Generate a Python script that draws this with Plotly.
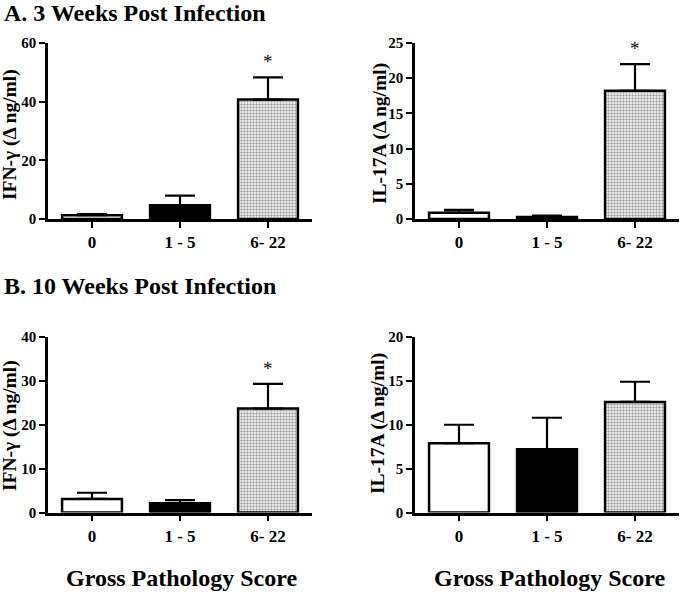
import plotly.graph_objects as go

categories = ["0", "1 - 5", "6- 22"]

# Panel A: 3 weeks post infection
ifn_3wk = [1.3, 4.7, 40.7]
ifn_3wk_err = [0.4, 3.3, 7.6]
il17_3wk = [0.9, 0.3, 18.2]
il17_3wk_err = [0.4, 0.2, 3.8]

# Panel B: 10 weeks post infection
ifn_10wk = [3.1, 2.1, 23.7]
ifn_10wk_err = [1.4, 0.7, 5.6]
il17_10wk = [7.9, 7.2, 12.6]
il17_10wk_err = [2.1, 3.6, 2.3]

stars_3wk_ifn = ["", "", "*"]
stars_3wk_il17 = ["", "", "*"]
stars_10wk_ifn = ["", "", "*"]
stars_10wk_il17 = ["", "", ""]

FONT = "'Liberation Serif', 'DejaVu Serif', 'Times New Roman', serif"

fig = go.Figure()

panels = [
    ("x", "y", ifn_3wk, ifn_3wk_err, stars_3wk_ifn),
    ("x2", "y2", il17_3wk, il17_3wk_err, stars_3wk_il17),
    ("x3", "y3", ifn_10wk, ifn_10wk_err, stars_10wk_ifn),
    ("x4", "y4", il17_10wk, il17_10wk_err, stars_10wk_il17),
]

fills = ["white", "black", "white"]
pattern_shapes = ["", "", "."]

for xa, ya, vals, errs, stars in panels:
    fig.add_trace(go.Bar(
        x=categories, y=vals, xaxis=xa, yaxis=ya,
        width=0.68,
        marker=dict(color=fills, line=dict(color="black", width=2.5),
                    pattern=dict(shape=pattern_shapes,
                                 fgcolor="#7a7a7a", bgcolor="#e6e6e6",
                                 size=3, solidity=0.5)),
        error_y=dict(type="data", symmetric=False, array=errs,
                     arrayminus=[0, 0, 0], color="black", thickness=2.2, width=15),
        showlegend=False, hoverinfo="skip",
    ))
    for c, v, e, s in zip(categories, vals, errs, stars):
        if s:
            fig.add_annotation(x=c, y=v + e, xref=xa, yref=ya, text=s,
                               showarrow=False, yanchor="bottom", yshift=3,
                               font=dict(family=FONT, size=19, color="black"))

xdom_l = [48 / 680, 312 / 680]
xdom_r = [415 / 680, 679 / 680]
ydom_a = [1 - 219 / 594, 1 - 43 / 594]
ydom_b = [1 - 512.5 / 594, 1 - 337 / 594]

def xaxis(dom, anchor):
    return dict(domain=dom, anchor=anchor, type="category", range=[-0.5, 2.5],
                automargin=False,
                showline=True, linecolor="black", linewidth=2.5,
                ticks="outside", ticklen=6, tickwidth=2, tickcolor="black",
                showgrid=False, zeroline=False,
                tickfont=dict(family=FONT, size=17, color="black", weight="bold"))

def yaxis(dom, anchor, rng, dt):
    return dict(domain=dom, anchor=anchor, range=rng, dtick=dt,
                automargin=False,
                showline=True, linecolor="black", linewidth=2.5,
                ticks="outside", ticklen=6, tickwidth=2, tickcolor="black",
                showgrid=False, zeroline=False,
                tickfont=dict(family=FONT, size=15, color="black", weight="bold"))

fig.update_layout(
    width=680, height=594,
    margin=dict(l=0, r=0, t=0, b=0, pad=0),
    paper_bgcolor="white", plot_bgcolor="white",
    font=dict(family=FONT, color="black"),
    xaxis=xaxis(xdom_l, "y"),
    yaxis=yaxis(ydom_a, "x", [0, 60], 20),
    xaxis2=xaxis(xdom_r, "y2"),
    yaxis2=yaxis(ydom_a, "x2", [0, 25], 5),
    xaxis3=xaxis(xdom_l, "y3"),
    yaxis3=yaxis(ydom_b, "x3", [0, 40], 10),
    xaxis4=xaxis(xdom_r, "y4"),
    yaxis4=yaxis(ydom_b, "x4", [0, 20], 5),
)

def ytitle(text, xpx, ypx):
    fig.add_annotation(x=xpx / 680, y=1 - ypx / 594, xref="paper", yref="paper",
                       text=text, textangle=-90, showarrow=False,
                       xanchor="center", yanchor="middle",
                       font=dict(family=FONT, size=19.5, color="black"))

ytitle("<b>IFN-γ (Δ ng/ml)</b>", 10, 135)
ytitle("<b>IL-17A (Δ ng/ml)</b>", 380, 134)
ytitle("<b>IFN-γ (Δ ng/ml)</b>", 10, 426)
ytitle("<b>IL-17A (Δ ng/ml)</b>", 378, 424)

def label(text, xpx, ypx, anchor="left", size=24):
    fig.add_annotation(x=xpx / 680, y=1 - ypx / 594, xref="paper", yref="paper",
                       text=text, showarrow=False, xanchor=anchor, yanchor="middle",
                       font=dict(family=FONT, size=size, color="black"))

label("<b>A. 3 Weeks Post Infection</b>", 2, 13)
label("<b>B. 10 Weeks Post Infection</b>", 2, 286)
label("<b>Gross Pathology Score</b>", 181, 578, anchor="center")
label("<b>Gross Pathology Score</b>", 549, 578, anchor="center")

fig.write_html("out.html",
               config={"displayModeBar": False},
               post_script="document.body.style.margin='0';document.body.style.padding='0';")
